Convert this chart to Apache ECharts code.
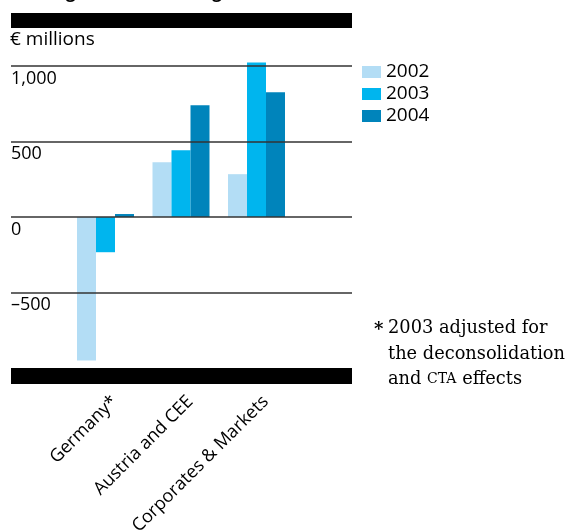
<!DOCTYPE html>
<html>
<head>
<meta charset="utf-8">
<script src="https://cdn.jsdelivr.net/npm/echarts@6/dist/echarts.min.js"></script>
<style>
  html, body { margin: 0; padding: 0; background: #ffffff; }
  #chart { width: 568px; height: 532px; }
</style>
</head>
<body>
<div id="chart"></div>
<script>
// Segment results, € millions
const segments = ['Germany*', 'Austria and CEE', 'Corporates & Markets'];
const years = ['2002', '2003', '2004'];
const values2002 = [-950, 363, 284];
const values2003 = [-233, 443, 1024];
const values2004 = [20, 740, 826];
const yTickValues = [-500, 0, 500, 1000];

const seriesValues = [values2002, values2003, values2004];
const colors = ['#b3ddf5', '#00b5ee', '#0084bb'];
const sans = '"Open Sans", "Noto Sans", sans-serif';
const serif = '"DejaVu Serif", serif';

const Y_MIN = -1000, Y_MAX = 1100;

function fmtTick(v) {
  if (yTickValues.indexOf(v) < 0) return '';
  const s = Math.abs(v).toString().replace(/\B(?=(\d{3})+(?!\d))/g, ',');
  return (v < 0 ? '\u2013' : '') + s;
}

const chart = echarts.init(document.getElementById('chart'), null, { renderer: 'canvas' });

chart.setOption({
  animation: false,
  backgroundColor: '#ffffff',
  textStyle: { fontFamily: sans },
  grid: [
    // full-width grid carrying the horizontal rules and tick labels
    { left: 11, right: 216, top: 51, bottom: 164, containLabel: false, outerBoundsMode: 'none' },
    // narrower grid holding the bar groups
    { left: 67.75, width: 226.5, top: 51, bottom: 164, containLabel: false, outerBoundsMode: 'none' }
  ],
  xAxis: [
    { gridIndex: 0, type: 'value', show: false, min: 0, max: 1 },
    {
      gridIndex: 1, type: 'category', data: segments,
      axisLine: { show: false }, axisTick: { show: false },
      axisLabel: {
        rotate: 45, margin: 40, color: '#000', fontSize: 18, fontFamily: sans,
        interval: 0, padding: [0, -13, 0, 0]
      }
    }
  ],
  yAxis: [
    {
      gridIndex: 0, type: 'value', min: Y_MIN, max: Y_MAX, interval: 500, z: 10,
      axisLine: { show: false }, axisTick: { show: false },
      splitLine: {
        show: true, showMinLine: false, showMaxLine: false,
        lineStyle: { color: '#333333', width: 1.5 }
      },
      axisLabel: {
        inside: true, margin: 0, color: '#000', fontSize: 18, fontFamily: sans,
        verticalAlign: 'top', lineHeight: 25,
        showMinLabel: false, showMaxLabel: false,
        formatter: fmtTick
      }
    },
    { gridIndex: 1, type: 'value', min: Y_MIN, max: Y_MAX, show: false }
  ],
  legend: {
    orient: 'vertical', left: 362, top: 62.5, padding: 0,
    itemWidth: 19, itemHeight: 12, itemGap: 3,
    icon: 'rect', data: years,
    textStyle: { color: '#000', fontSize: 19, lineHeight: 19, fontFamily: sans }
  },
  series: years.map((y, i) => ({
    name: y, type: 'bar', xAxisIndex: 1, yAxisIndex: 1,
    data: seriesValues[i], barWidth: 19, barGap: '0%',
    itemStyle: { color: colors[i] }, z: 2
  })),
  graphic: [
    { type: 'text', left: 11, top: -15, z: 0,
      style: { text: 'Earnings trend in the segments', fill: '#000', font: 'bold 17px ' + sans } },
    { type: 'rect', shape: { x: 11, y: 13, width: 341, height: 15 }, style: { fill: '#000' } },
    { type: 'rect', shape: { x: 11, y: 368, width: 341, height: 16 }, style: { fill: '#000' } },
    { type: 'text', x: 10, y: 40,
      style: { text: '\u20ac millions', fill: '#000', font: '19px ' + sans, verticalAlign: 'middle' } },
    { type: 'text', x: 374, y: 330,
      style: { text: '*', fill: '#000', font: 'bold 18px ' + serif, verticalAlign: 'middle' } },
    { type: 'text', x: 388, y: 316,
      style: {
        text: '2003 adjusted for\nthe deconsolidation\nand {sc|CTA} effects',
        fill: '#000', font: '17.8px ' + serif, lineHeight: 25.5, verticalAlign: 'top',
        rich: { sc: { fontSize: 14, fontFamily: serif, fill: '#000' } }
      } }
  ]
});
</script>
</body>
</html>
